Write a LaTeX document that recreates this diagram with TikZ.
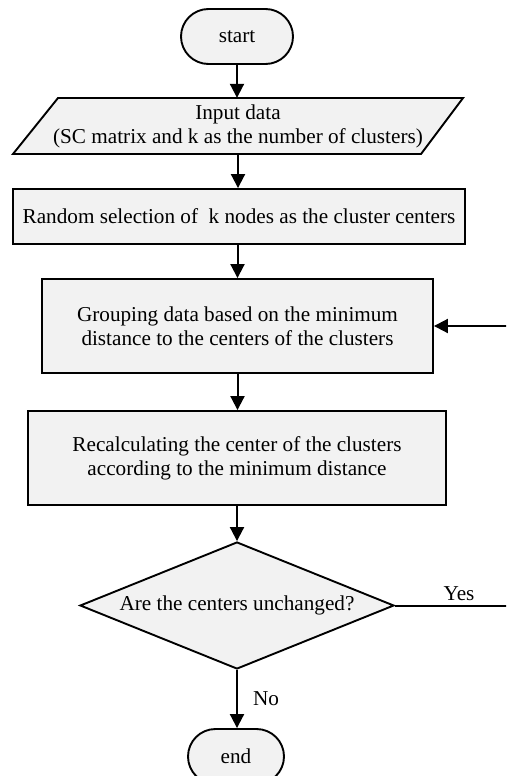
\documentclass[tikz,border=0pt]{standalone}
\usepackage{fontspec}
\setmainfont{Liberation Serif}
\usetikzlibrary{arrows.meta,shapes.geometric,shapes.misc}
\definecolor{boxfill}{HTML}{F2F2F2}
\begin{document}
\begin{tikzpicture}[x=1pt,y=-1pt,
  every node/.style={font=\fontsize{21.2}{24}\selectfont, align=center},
  term/.style={rounded rectangle, draw, line width=1.9pt, fill=boxfill, minimum width=112pt, minimum height=55pt, inner sep=0pt},
  proc/.style={rectangle, draw, line width=1.9pt, fill=boxfill, inner sep=0pt},
  dec/.style={diamond, draw, line width=1.9pt, fill=boxfill, minimum width=314pt, minimum height=127pt, aspect=2.47, inner sep=0pt},
  conn/.style={line width=2pt, -{Triangle[width=14pt,length=14pt]}}
]
\useasboundingbox (0,0) rectangle (506,776);
\clip (0,0) rectangle (506,776);

\node[term] (start) at (237,36.5) {start};

\filldraw[fill=boxfill, line width=1.9pt] (58,98) -- (463,98) -- (421,154) -- (13,154) -- cycle;
\node[rectangle, minimum width=405pt, minimum height=56pt, inner sep=0pt] (input) at (238,126)
  {Input data\\(SC matrix and k as the number of clusters)};

\node[proc, minimum width=452pt, minimum height=55pt] (random) at (239,216.5)
  {Random selection of~~k nodes as the cluster centers};

\node[proc, minimum width=391pt, minimum height=94pt] (group) at (237.5,326)
  {Grouping data based on the minimum\\distance to the centers of the clusters};

\node[proc, minimum width=418pt, minimum height=94pt] (recalc) at (237,458)
  {Recalculating the center of the clusters\\according to the minimum distance};

\node[dec] (check) at (237,605.5) {Are the centers unchanged?};

\node[term, minimum width=96pt] (end) at (236,756.5) {end};

\node (yes) at (459,594) {Yes};
\node (no) at (266,699) {No};

\draw[conn] (start.south) -- (start.south |- input.north);
\draw[conn] (input.south) -- (input.south |- random.north);
\draw[conn] (random.south -| group.south) -- (group.north);
\draw[conn] (group.south) -- (group.south |- recalc.north);
\draw[conn] (recalc.south) -- (check.north);
\draw[conn] (check.south) -- (check.south |- end.north);
\draw[conn] (check.east) -- (530,605.5) |- (group.east);
\end{tikzpicture}
\end{document}
